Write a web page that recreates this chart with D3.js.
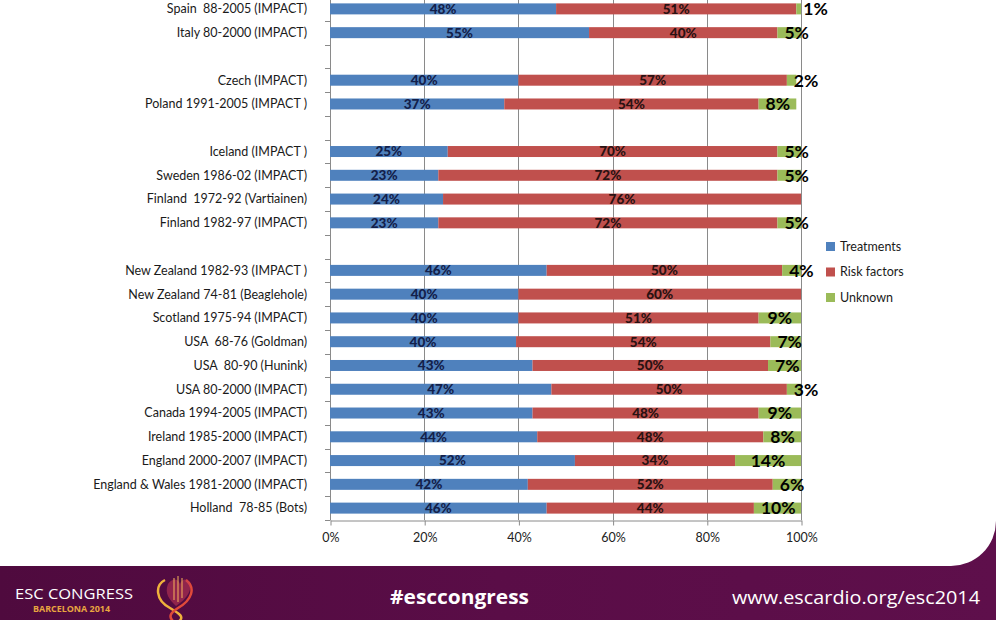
<!DOCTYPE html>
<html>
<head>
<meta charset="utf-8">
<script src="https://cdn.jsdelivr.net/npm/d3@7"></script>
<style>
  html, body { margin: 0; padding: 0; background: #fff; }
  svg { display: block; }
</style>
</head>
<body>
<svg id="chart" width="996" height="620"></svg>
<script>
// ---------- data ----------
const categories = [
  "Spain  88-2005 (IMPACT)",
  "Italy 80-2000 (IMPACT)",
  "_gap1",
  "Czech (IMPACT)",
  "Poland 1991-2005 (IMPACT )",
  "_gap2",
  "Iceland (IMPACT )",
  "Sweden 1986-02 (IMPACT)",
  "Finland  1972-92 (Vartiainen)",
  "Finland 1982-97 (IMPACT)",
  "_gap3",
  "New Zealand 1982-93 (IMPACT )",
  "New Zealand 74-81 (Beaglehole)",
  "Scotland 1975-94 (IMPACT)",
  "USA  68-76 (Goldman)",
  "USA  80-90 (Hunink)",
  "USA 80-2000 (IMPACT)",
  "Canada 1994-2005 (IMPACT)",
  "Ireland 1985-2000 (IMPACT)",
  "England 2000-2007 (IMPACT)",
  "England & Wales 1981-2000 (IMPACT)",
  "Holland  78-85 (Bots)"
];
// percentages (null for the blank spacer rows)
const treatments  = [48, 55, null, 40, 37, null, 25, 23, 24, 23, null, 46, 40, 40, 39.5, 43, 47, 43, 44, 52, 42, 46];
const riskFactors = [51, 40, null, 57, 54, null, 70, 72, 76, 72, null, 50, 60, 51, 54, 50, 50, 48, 48, 34, 52, 44];
const unknown     = [ 1,  5, null,  2,  8, null,  5,  5,  0,  5, null,  4,  0,  9, 6.5, 7,  3,  9,  8, 14,  6, 10];
const seriesNames = ["Treatments", "Risk factors", "Unknown"];
const xTicks = [0, 0.2, 0.4, 0.6, 0.8, 1.0];

// ---------- setup ----------
const svg = d3.select("#chart");
const W = 996, H = 620;
const colors = ["#4F81BD", "#C0504D", "#9BBB59"];
const labelColors = ["#13204a", "#2a1212", "#000000"];
const font = "Lato, 'Open Sans', sans-serif";

// footer background
const defs = svg.append("defs");
const grad = defs.append("linearGradient").attr("id", "ban").attr("x1", "0").attr("x2", "1").attr("y1", "0").attr("y2", "0");
grad.append("stop").attr("offset", "0").attr("stop-color", "#4f0a3e");
grad.append("stop").attr("offset", "0.5").attr("stop-color", "#5a0d47");
grad.append("stop").attr("offset", "1").attr("stop-color", "#5e0f4b");
svg.append("rect").attr("x", 0).attr("y", 470).attr("width", W).attr("height", H - 470).attr("fill", "url(#ban)");
svg.append("path").attr("d", "M0,0 H996 V521 A45,45 0 0 1 951,566 H0 Z").attr("fill", "#ffffff");

const rows = categories.map((c, i) => ({
  cat: c, gap: c.startsWith("_gap"),
  vals: [treatments[i], riskFactors[i], unknown[i]]
}));

const yTop = -3;
const axisY = 520;
const x = d3.scaleLinear().domain([0, 1]).range([330, 801]);
const y = d3.scaleBand().domain(categories).range([yTop, axisY]).paddingInner(0).paddingOuter(0);
const barH = 11;

// gridlines
svg.append("g").selectAll("line").data(xTicks.slice(1)).join("line")
  .attr("x1", d => Math.round(x(d)) + 0.5).attr("x2", d => Math.round(x(d)) + 0.5)
  .attr("y1", yTop).attr("y2", axisY)
  .attr("stroke", "#8a8a8a").attr("stroke-width", 1);

// x axis
const xAxis = d3.axisBottom(x).tickValues(xTicks).tickFormat(d3.format(".0%")).tickSize(5).tickSizeOuter(0);
const gx = svg.append("g").attr("transform", `translate(0.5,${axisY + 0.5})`).call(xAxis);
gx.select(".domain").attr("stroke", "#8a8a8a");
gx.selectAll(".tick line").attr("stroke", "#8a8a8a");
gx.selectAll(".tick text").attr("font-family", font).attr("font-size", 12.5).attr("fill", "#222").attr("dy", "1.1em");

// y axis line + tick marks at band boundaries
svg.append("line").attr("x1", 330.5).attr("x2", 330.5).attr("y1", yTop).attr("y2", axisY).attr("stroke", "#8a8a8a");
const bounds = d3.range(categories.length + 1).map(i => y.range()[0] + i * y.step());
svg.append("g").selectAll("line").data(bounds).join("line")
  .attr("x1", 325).attr("x2", 330.5)
  .attr("y1", d => Math.round(d) + 0.5).attr("y2", d => Math.round(d) + 0.5)
  .attr("stroke", "#8a8a8a");

// category labels
svg.append("g").selectAll("text").data(rows.filter(r => !r.gap)).join("text")
  .attr("x", 307).attr("y", d => y(d.cat) + y.bandwidth() / 2)
  .attr("dy", "0.35em").attr("text-anchor", "end")
  .attr("font-family", font).attr("font-size", 12.5).attr("fill", "#1a1a1a")
  .style("white-space", "pre")
  .text(d => d.cat);

// stacked bars
const barsG = svg.append("g");
const labelsG = svg.append("g");
rows.filter(r => !r.gap).forEach(r => {
  let acc = 0;
  const cy = y(r.cat) + y.bandwidth() / 2;
  r.vals.forEach((v, si) => {
    const x0 = x(acc / 100), x1 = x((acc + v) / 100);
    acc += v;
    if (!v) return;
    barsG.append("rect")
      .attr("x", x0).attr("y", cy - barH / 2)
      .attr("width", x1 - x0).attr("height", barH)
      .attr("fill", colors[si]);
    const t = labelsG.append("text")
      .attr("y", cy).attr("dy", "0.36em")
      .attr("font-family", font).attr("font-weight", si === 2 ? "bold" : 900)
      .attr("font-size", si === 2 ? 17.5 : 13.5)
      .attr("fill", labelColors[si])
      .attr("text-anchor", "middle")
      .text(Math.round(v) + "%");
    let cx = (x0 + x1) / 2;
    if (si === 2) {
      const w = t.node().getComputedTextLength();
      cx = Math.max(cx, x0 + w / 2 + 7);
    }
    t.attr("x", cx);
  });
});

// legend
const lg = svg.append("g");
seriesNames.forEach((n, i) => {
  const ly = 246.5 + i * 25.5;
  lg.append("rect").attr("x", 826).attr("y", ly - 4.5).attr("width", 9).attr("height", 9).attr("fill", colors[i]);
  lg.append("text").attr("x", 840).attr("y", ly).attr("dy", "0.35em")
    .attr("font-family", font).attr("font-size", 12.5).attr("fill", "#1a1a1a").text(n);
});

// footer texts
const ft = svg.append("g");
ft.append("text").attr("x", 15).attr("y", 598.5).attr("font-family", "'Open Sans', sans-serif")
  .attr("font-size", 14).attr("fill", "#ffffff").attr("textLength", 118).attr("lengthAdjust", "spacingAndGlyphs")
  .text("ESC CONGRESS");
ft.append("text").attr("x", 33).attr("y", 612).attr("font-family", "'Open Sans', sans-serif").attr("font-weight", "bold")
  .attr("font-size", 8.5).attr("fill", "#e9a640").attr("textLength", 77).attr("lengthAdjust", "spacingAndGlyphs")
  .text("BARCELONA 2014");
// logo (ribbon heart)
const logo = ft.append("g");
logo.append("path").attr("d", "M165,580 C155,585 155,600 170,608 C180,614 185,617 178,622")
  .attr("fill", "none").attr("stroke", "#f0b23c").attr("stroke-width", 2.5);
logo.append("path").attr("d", "M186,580 C196,588 192,600 178,608 C170,613 168,617 174,622")
  .attr("fill", "none").attr("stroke", "#e04a3a").attr("stroke-width", 2.5);
logo.append("path").attr("d", "M168,584 C172,578 178,578 180,584 C182,578 188,578 190,584 C192,594 182,602 176,606 C170,600 164,594 168,584 Z")
  .attr("fill", "#c23a55").attr("opacity", 0.55);
logo.append("path").attr("d", "M174,578 V600 M178,576 V602 M182,578 V598")
  .attr("stroke", "#f6b45a").attr("stroke-width", 1);
ft.append("text").attr("x", 390).attr("y", 604).attr("font-family", "'Open Sans', sans-serif").attr("font-weight", "bold")
  .attr("font-size", 20).attr("fill", "#ffffff").attr("textLength", 139).attr("lengthAdjust", "spacingAndGlyphs")
  .text("#esccongress");
ft.append("text").attr("x", 732).attr("y", 604).attr("font-family", "'Open Sans', sans-serif")
  .attr("font-size", 19).attr("fill", "#ffffff").attr("textLength", 248).attr("lengthAdjust", "spacingAndGlyphs")
  .text("www.escardio.org/esc2014");
</script>
</body>
</html>
